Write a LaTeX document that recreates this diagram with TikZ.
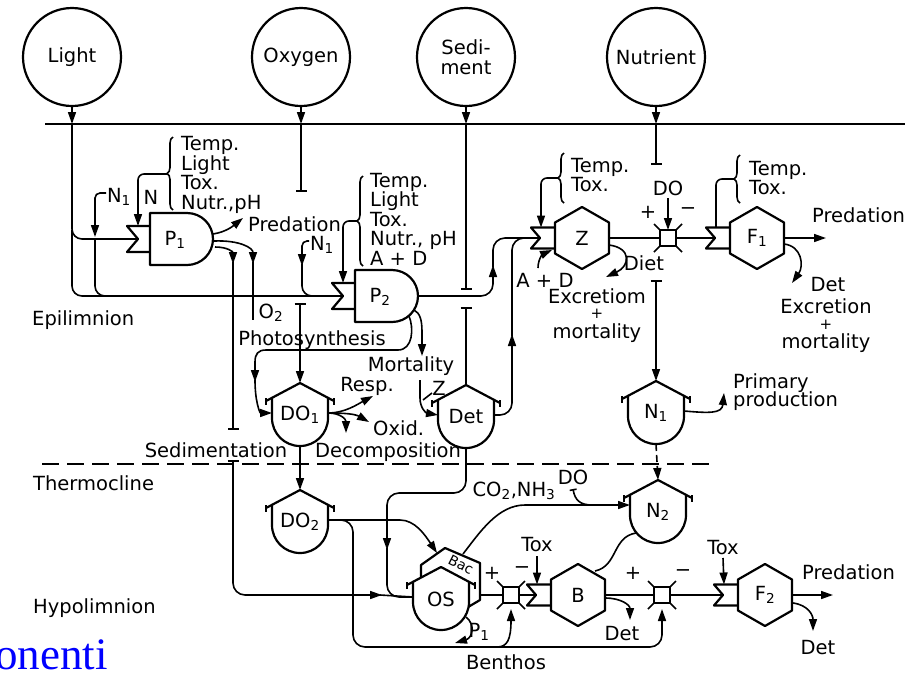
\documentclass[tikz,border=0pt]{standalone}
\usepackage{fontspec}
\newfontfamily\dv{DejaVu Sans}
\newfontfamily\tnr{Liberation Serif}
\usetikzlibrary{arrows.meta,decorations.pathreplacing}
\newcommand{\sbs}[1]{\textsubscript{#1}}
\tikzset{
  shp/.style={line width=2.2pt, line join=round},
  flow/.style={line width=1.6pt},
  arr/.style={flow, ->},
  bar/.style={flow, -{Bar[width=11pt]}},
  rbar/.style={flow, {Bar[width=11pt]}-},
  barr/.style={flow, {Bar[width=11pt]}->},
  lbl/.style={font=\dv\fontsize{19.5}{19.5}\selectfont, inner sep=0pt},
  src/.style={circle, draw, shp, minimum size=98pt, inner sep=0pt, lbl, align=center},
  brc/.style={flow, decorate, decoration={brace, amplitude=6pt}},
  prod/.pic={
    \draw[shp] (0,-26) -- (37,-26) .. controls (51.4,-26) and (63,-14.4) .. (63,0) .. controls (63,14.4) and (51.4,26) .. (37,26) -- (0,26) -- cycle;
    \draw[shp] (0,-13) -- (-23,-13) -- (-12,0) -- (-23,13) -- (0,13);
    \node[lbl] (-c) at (25,1) {#1};
    \coordinate (-in) at (-12,0); \coordinate (-nt) at (-12,-13); \coordinate (-e) at (63,0);
  },
  cons/.pic={
    \draw[shp] (0,-31) -- (27,-15.5) -- (27,15.5) -- (0,31) -- (-27,15.5) -- (-27,-15.5) -- cycle;
    \draw[shp] (-27,-10.5) -- (-51,-10.5) -- (-42,0) -- (-51,10.5) -- (-27,10.5);
    \node[lbl] (-c) at (0,0) {#1};
    \coordinate (-in) at (-42,0); \coordinate (-nt) at (-41,-10.5); \coordinate (-e) at (27,0);
  },
  tank/.pic={
    \fill[white] (-28,-17) -- (0,-32) -- (28,-17) -- (28,3) .. controls (28,18.5) and (15.5,31) .. (0,31) .. controls (-15.5,31) and (-28,18.5) .. (-28,3) -- cycle;
    \draw[shp] (-34,-14) -- (0,-32) -- (34,-14);
    \draw[shp] (-34,-17) -- (-34,-10) (34,-17) -- (34,-10);
    \draw[shp] (-28,-17) -- (-28,3) .. controls (-28,18.5) and (-15.5,31) .. (0,31) .. controls (15.5,31) and (28,18.5) .. (28,3) -- (28,-17);
    \node[lbl] (-c) at (0,0) {#1};
    \coordinate (-n) at (0,-32); \coordinate (-s) at (0,31);
    \coordinate (-w) at (-28,-2); \coordinate (-e) at (28,-2);
  },
  mult/.pic={
    \draw[shp, fill=white] (-8,-8) rectangle (8,8);
    \draw[flow] (-8,-8) -- (-14,-14) (8,-8) -- (14,-14) (-8,8) -- (-14,14) (8,8) -- (14,14);
    \coordinate (-w) at (-8,0); \coordinate (-e) at (8,0); \coordinate (-n) at (0,-8); \coordinate (-s) at (0,14);
  },
}
\begin{document}
\begin{tikzpicture}[x=1pt,y=-1pt,>={Triangle[length=12pt,width=8pt]}]
\fill[white] (0,0) rectangle (919,673);
\useasboundingbox (0,0) rectangle (919,673);

% remnant of slide title
\node[font=\tnr\fontsize{45}{45}\selectfont, text=blue, anchor=base east, inner sep=0pt] (title) at (108,669) {onenti};

% sources
\node[src] (light) at (72,57) {Light};
\node[src] (oxy) at (301,57) {Oxygen};
\node[src] (sed) at (466,57) {Sedi-\\ment};
\node[src] (nut) at (656,57) {Nutrient};

% water surface and thermocline
\coordinate (sL) at (45,124); \coordinate (sR) at (905,124);
\draw[line width=1.8pt] (sL) -- (sR);
\coordinate (tL) at (42,464); \coordinate (tR) at (712,464);
\draw[flow, dash pattern=on 17pt off 8pt] (tL) -- (tR);

% layer labels
\node[lbl, anchor=west] (epi) at (32,320) {Epilimnion};
\node[lbl, anchor=west] (thermo) at (33,483) {Thermocline};
\node[lbl, anchor=west] (hypo) at (33,608) {Hypolimnion};

% components
\pic (P1) at (150,239) {prod={P\sbs{1}}};
\pic (P2) at (355,296) {prod={P\sbs{2}}};
\pic (Z) at (582,238) {cons=Z};
\pic (F1) at (757,238) {cons={F\sbs{1}}};
\pic (MZ) at (668,238) {mult};
\pic (DO1) at (300,415) {tank={DO\sbs{1}}};
\pic (Det) at (466,417) {tank=Det};
\pic (N1) at (656,413) {tank={N\sbs{1}}};
\pic (DO2) at (300,522) {tank={DO\sbs{2}}};
\pic (N2) at (658,512) {tank={N\sbs{2}}};
\draw[shp] (421,585) -- (421,565) -- (445,548) -- (480,563) -- (480,600) -- (458,613) -- cycle;
\begin{scope}[shift={(441,599)},scale=0.9]
  \pic (OS) at (0,0) {tank=OS};
\end{scope}
\node[lbl, font=\dv\fontsize{14}{14}\selectfont, rotate=-27] (bac) at (461,565) {Bac};
\pic (MB1) at (511,595) {mult};
\pic (B) at (578,595) {cons=B};
\pic (MB2) at (662,595) {mult};
\pic (F2) at (765,595) {cons={F\sbs{2}}};

% Light
\draw[arr] (light.south) -- (72,124);
\draw[flow, rounded corners=10pt] (72,124) |- (P1-in);
\draw[flow, rounded corners=10pt] (72,230) |- (P2-in);
\node[lbl] (n1a) at (119,197) {N\sbs{1}};
\draw[arr, rounded corners=5pt] (106,193) -- (95,193) -- (95,237);
\draw[flow, rounded corners=10pt] (95,239) |- (130,296);
\node[lbl] (nlab) at (151,197) {N};
\draw[brc] (173,210) -- (173,137);
\node[lbl, align=left, anchor=west] (p1in) at (181,175) {Temp.\\Light\\Tox.\\Nutr.,pH};
\draw[arr, rounded corners=6pt] (167,174) -| (P1-nt);

% P1 outputs
\draw[arr] (213,234) .. controls (226,232) and (233,226) .. (243,218);
\node[lbl, anchor=west] (pred1) at (248,224) {Predation};
\draw[arr] (215,247) .. controls (228,247) and (233,252) .. (233,264);
\draw[bar] (233,262) -- (233,430);
\draw[arr] (214,241) .. controls (240,240) and (253,248) .. (253,264);
\draw[flow] (253,262) -- (253,320);
\node[lbl] (o2) at (271,313) {O\sbs{2}};
\node[lbl] (sedim) at (216,450) {Sedimentation};
\draw[barr, rounded corners=12pt] (233,460) |- (382,595);
\draw[flow] (380,595) -- (OS-w);

% Oxygen
\draw[arr] (oxy.south) -- (301,124);
\draw[bar] (301,124) -- (301,192);
\draw[barr] (300,303) -- (DO1-n);
\node[lbl] (photo) at (312,340) {Photosynthesis};

% P2 inputs
\node[lbl] (n1b) at (322,245) {N\sbs{1}};
\draw[arr, rounded corners=5pt] (309,241) -- (302,241) -- (302,266);
\draw[flow, rounded corners=10pt] (302,264) |- (P2-in);
\draw[brc] (363,266) -- (363,176);
\node[lbl, align=left, anchor=west] (p2in) at (370,219) {Temp.\\Light\\Tox.\\Nutr., pH\\A + D};
\draw[arr, rounded corners=6pt] (357,221) -| (P2-nt);

% Sediment
\draw[arr] (sed.south) -- (466,124);
\draw[bar] (466,124) -- (466,290);
\draw[rbar] (466,307) -- (Det-n);

% P2 outputs
\draw[arr, rounded corners=12pt] (P2-e) -| (493,265);
\draw[flow, rounded corners=12pt] (493,267) |- (Z-in);
\draw[arr] (409,316) .. controls (414,328) and (413,350) .. (398,350) -- (266,350) .. controls (258,350) and (255,354) .. (255,362) -- (255,382);
\draw[arr] (255,380) .. controls (255,402) and (260,413) .. (DO1-w);
\draw[arr] (414,310) .. controls (420,313) and (422,320) .. (422,332) -- (422,356);
\node[lbl] (mort) at (411,366) {Mortality};
\draw[arr] (420,380) -- (420,398) .. controls (420,408) and (426,413) .. (Det-w);
\node[lbl] (zz) at (439,388) {Z};
\draw[flow] (432,393) -- (423,400);

% DO1
\draw[arr] (DO1-e) .. controls (345,413) and (358,404) .. (373,396);
\draw[arr] (DO1-e) .. controls (345,413) and (355,414) .. (369,422);
\draw[arr] (DO1-e) .. controls (340,413) and (346,419) .. (346,433);
\node[lbl] (resp) at (367,386) {Resp.};
\node[lbl, anchor=west] (oxid) at (373,428) {Oxid.};
\node[lbl] (decomp) at (388,452) {Decomposition};
\draw[arr] (DO1-s) -- (DO2-n);

% Det
\draw[arr, rounded corners=12pt] (Det-e) -| (512,334);
\draw[flow, rounded corners=12pt] (512,336) |- (Z-in);
\draw[arr, rounded corners=12pt] (Det-s) |- (387,493) -- (387,550);
\draw[flow, rounded corners=12pt] (387,548) |- (OS-w);

% Z
\draw[brc] (564,203) -- (564,153);
\node[lbl, align=left, anchor=west] (zin) at (571,175) {Temp.\\Tox.};
\draw[arr, rounded corners=6pt] (558,178) -| (Z-nt);
\draw[arr] (538,268) .. controls (538,259) and (543,254) .. (552,250);
\node[lbl] (ad) at (545,280) {A + D};
\draw[flow] (Z-e) -- (MZ-w);
\draw[flow] (MZ-e) -- (F1-in);
\node[lbl] (dom) at (668,188) {DO};
\draw[arr] (668,198) -- (MZ-n);
\node[lbl] (plz) at (648,212) {+};
\node[lbl] (miz) at (688,211) {−};
\draw[arr] (609,245) .. controls (632,248) and (630,266) .. (606,277);
\node[lbl] (zdet) at (644,263) {Diet};
\node[lbl] (zexc) at (597,296) {Excretiom};
\node[lbl, font=\dv\fontsize{15}{15}\selectfont] (zplus) at (597,314) {+};
\node[lbl] (zmort) at (597,333) {mortality};

% Nutrient
\draw[arr] (nut.south) -- (656,124);
\draw[bar] (656,124) -- (656,165);
\draw[barr] (656,280) -- (N1-n);
\draw[arr] (N1-e) .. controls (708,413) and (722,414) .. (724,393);
\node[lbl, anchor=west] (prim) at (733,383) {Primary};
\node[lbl, anchor=west] (pprod) at (733,401) {production};
\draw[arr, dash pattern=on 7pt off 4pt] (N1-s) -- (N2-n);

% F1
\draw[brc] (740,203) -- (740,155);
\node[lbl, align=left, anchor=west] (f1in) at (749,178) {Temp.\\Tox.};
\draw[flow, rounded corners=6pt] (734,179) -| (F1-nt);
\draw[arr] (F1-e) -- (826,238);
\node[lbl, anchor=west] (pred2) at (812,215) {Predation};
\draw[arr] (784,244) .. controls (802,246) and (804,266) .. (792,283);
\node[lbl] (f1det) at (828,285) {Det};
\node[lbl] (f1exc) at (826,306) {Excretion};
\node[lbl, font=\dv\fontsize{15}{15}\selectfont] (f1plus) at (826,325) {+};
\node[lbl] (f1mort) at (826,343) {mortality};

% DO2
\draw[arr] (DO2-e) -- (400,520) .. controls (415,520) and (425,535) .. (437,553);
\draw[arr, rounded corners=12pt] (DO2-e) -- (353,520) -- (353,647) -| (MB2-s);
\draw[arr] (497,647) .. controls (507,647) and (511,640) .. (MB1-s);

% OS / bacteria
\node[lbl] (plos) at (492,573) {+};
\draw[arr] (466,617) .. controls (476,625) and (472,638) .. (455,643);
\node[lbl] (osp1) at (479,632) {P\sbs{1}};
\node[lbl] (benth) at (506,662) {Benthos};
\draw[flow] (480,595) -- (MB1-w);
\draw[flow] (MB1-e) -- (B-in);

% N2
\coordinate (n2w) at (630,505);
\draw[arr] (463,554) .. controls (480,532) and (498,505) .. (525,505) -- (n2w);
\node[lbl] (co2) at (514,491) {CO\sbs{2},NH\sbs{3}};
\node[lbl] (don) at (573,477) {DO};
\draw[flow, {Bar[width=7pt]}-] (573,489) .. controls (575,500) and (580,505) .. (592,505);
\draw[flow] (636,533) .. controls (612,537) and (618,566) .. (595,571);

% B
\node[lbl] (tox1) at (537,545) {Tox};
\draw[arr] (537,556) -- (B-nt);
\node[lbl] (mib) at (522,570) {−};
\draw[flow] (B-e) -- (MB2-w);
\draw[arr] (605,598) .. controls (621,598) and (630,605) .. (630,620);
\node[lbl] (bdet) at (622,634) {Det};
\node[lbl] (plb) at (633,573) {+};
\node[lbl] (mib2) at (683,573) {−};

% F2
\draw[flow] (MB2-e) -- (F2-in);
\node[lbl] (tox2) at (723,548) {Tox};
\draw[arr] (723,558) -- (F2-nt);
\draw[arr] (F2-e) -- (833,595);
\node[lbl, anchor=west] (pred3) at (802,572) {Predation};
\draw[arr] (793,603) .. controls (808,605) and (813,615) .. (813,631);
\node[lbl] (f2det) at (818,648) {Det};
\end{tikzpicture}
\end{document}
